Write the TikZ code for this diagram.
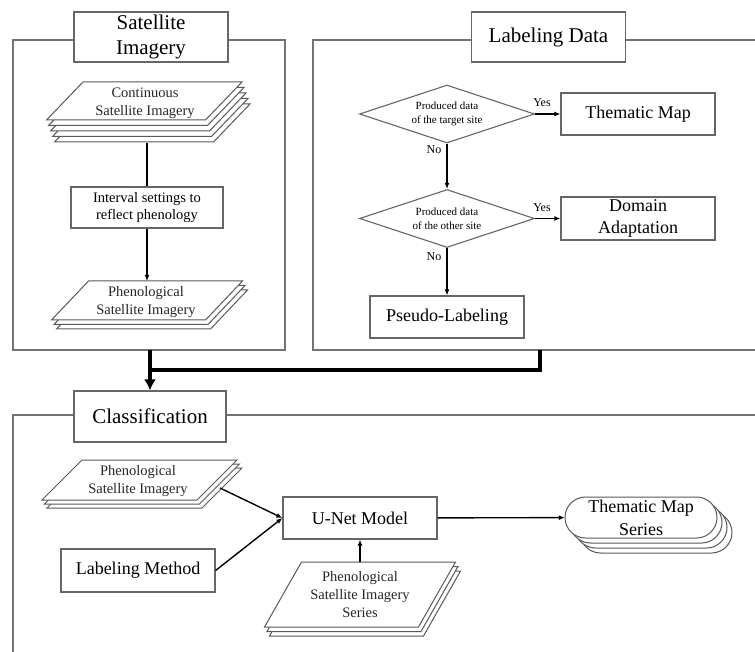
\documentclass[tikz,border=0pt]{standalone}
\usepackage{fontspec}
\setmainfont{Liberation Serif}
\newfontfamily\tnr{Liberation Serif}
\usetikzlibrary{arrows.meta,shapes.geometric,calc}

\newcommand{\pstack}[9]{%
  \foreach \k in {#7,...,0}{%
    \draw[layer] ({#2-#4+#6+\k*#8},{#3-#5+\k*#9}) -- ++({2*#4},0) -- ++({-2*#6},{2*#5}) -- ++({-2*#4},0) -- cycle;}%
  \coordinate (#1) at (#2,#3);}

\begin{document}
\begin{tikzpicture}[x=1pt,y=-1pt,
  panel/.style={draw=black!55,line width=1.3pt},
  titlebox/.style={draw=black!60,line width=1.2pt,fill=white,minimum width=154pt,minimum height=50pt,font=\tnr\fontsize{21}{25}\selectfont,align=center,inner sep=0pt},
  box/.style={draw=black!60,line width=1.2pt,fill=white,minimum width=154pt,minimum height=42pt,font=\tnr\fontsize{18}{22}\selectfont,align=center,inner sep=0pt},
  smallbox/.style={box,font=\tnr\fontsize{14.5}{17.6}\selectfont,minimum width=152pt,minimum height=41pt},
  layer/.style={draw=black!65,line width=1pt,fill=white,line join=miter},
  stxt/.style={font=\tnr\fontsize{14.5}{18}\selectfont,align=center,inner sep=0pt,text=black!85},
  dia/.style={diamond,draw=black!60,line width=1.1pt,fill=white,minimum width=175pt,minimum height=58pt,inner sep=0pt,aspect=3,font=\tnr\fontsize{11}{13.5}\selectfont,align=center},
  yn/.style={font=\tnr\fontsize{12}{14}\selectfont,inner sep=0pt},
  line/.style={black,line width=1.4pt},
  arr/.style={line,-{Latex[length=6pt,width=5pt]}},
  arrb/.style={black,line width=1.8pt,-{Latex[length=6pt,width=5pt]}},
  thickl/.style={black,line width=4pt},
  thickarr/.style={thickl,-{Latex[length=11pt,width=12pt]}}
]
\useasboundingbox (0,0) rectangle (755,652);
\fill[white] (0,0) rectangle (755,652);

% panels
\draw[panel] (13,40) rectangle (285,350);
\draw[panel] (755,40) -| (313,350) -- (755,350);
\draw[panel] (755,415) -| (13,652);

% titles
\node[titlebox] (satT) at (151,37) {Satellite\\Imagery};
\node[titlebox] (labT) at (548.5,37) {Labeling Data};
\node[titlebox,minimum width=152pt,minimum height=51pt] (clsT) at (150,416.5) {Classification};

% satellite imagery panel
\pstack{cont}{144.25}{101}{79.5}{19}{18.25}{4}{2}{5.5}
\node[stxt] (contT) at (145,103) {Continuous\\Satellite Imagery};
\node[smallbox] (intv) at (147,207.5) {Interval settings to\\reflect phenology};
\pstack{phen1}{147}{300.5}{77}{19.5}{18.5}{2}{2.5}{4.5}
\node[stxt] (phen1T) at (146,302.5) {Phenological\\Satellite Imagery};
\coordinate (cont-bot) at (147,143);
\coordinate (phen1-top) at (147,281);
\draw[line] (cont-bot) -- (intv);
\draw[arr] (intv) -- (phen1-top);

% labeling data panel
\node[dia] (d1) at (447,114) {Produced data\\of the target site};
\node[dia] (d2) at (447,218.5) {Produced data\\of the other site};
\node[box] (tm) at (638,114) {Thematic Map};
\node[box,minimum height=43pt] (da) at (638,218.5) {Domain\\Adaptation};
\node[box] (pl) at (447,317) {Pseudo-Labeling};
\draw[arrb] (d1) -- (tm);
\draw[arrb] (d2) -- (da);
\draw[arrb] (d1) -- (d2);
\draw[arrb] (d2) -- (pl);
\node[yn] (y1) at (542,103) {Yes};
\node[yn] (y2) at (542,208) {Yes};
\node[yn] (n1) at (434,150) {No};
\node[yn] (n2) at (434,257) {No};

% thick connectors
\coordinate (sat-s) at (150,350);
\coordinate (lab-s) at (540,350);
\coordinate (join) at (150,370);
\draw[thickl] (lab-s) |- (join);
\draw[thickarr] (sat-s) -- (clsT);

% classification panel
\pstack{phen2}{139.5}{480}{77.5}{20}{20}{2}{2.5}{4}
\node[stxt] (phen2T) at (138,481) {Phenological\\Satellite Imagery};
\node[box] (unet) at (360,518) {U-Net Model};
\node[box,minimum height=43pt] (lm) at (138,570.5) {Labeling Method};
\coordinate (phen2-out) at (220,488);
\draw[arr] (phen2-out) -- (unet.west);
\draw[arr] (lm.east) -- (unet.west);
\pstack{ser}{360}{594.5}{77}{32.5}{18.5}{2}{2.5}{4.5}
\node[stxt] (serT) at (360,595) {Phenological\\Satellite Imagery\\Series};
\coordinate (ser-top) at (360,562);
\draw[arr] (ser-top) -- (unet);
\foreach \k in {3,...,0}{\draw[layer,rounded corners=20.5pt] ({565+5*\k},{497+5*\k}) rectangle ++(152,41);}
\node[font=\tnr\fontsize{18}{23}\selectfont,align=center,inner sep=0pt,minimum width=152pt,minimum height=41pt] (tms) at (641,517.5) {Thematic Map\\Series};
\draw[arr] (unet) -- (tms);
\end{tikzpicture}
\end{document}
